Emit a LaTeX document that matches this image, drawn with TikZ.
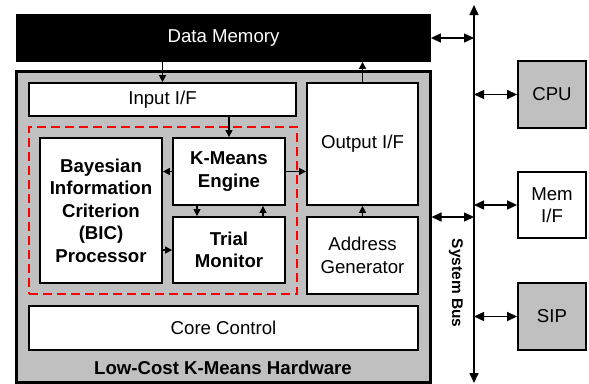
\documentclass[tikz,border=0pt]{standalone}
\usepackage{fontspec}
\setmainfont{Liberation Sans}
\usetikzlibrary{arrows.meta,calc}
\definecolor{hwgray}{HTML}{C0C0C0}
\begin{document}
\begin{tikzpicture}[x=1bp,y=-1bp,
  box/.style={draw=black,line width=1.8bp,fill=white,inner sep=0pt,align=center,
    font=\fontsize{18.7}{22.5}\selectfont},
  boldbox/.style={box,font=\fontsize{18.7}{22.5}\selectfont\bfseries},
  arr/.style={line width=1.4bp,-{Triangle[length=7bp,width=7bp]}},
  dbl/.style={line width=1.4bp,{Triangle[length=10bp,width=9bp]}-{Triangle[length=10bp,width=9bp]}},
  lbl/.style={inner sep=0pt,font=\fontsize{18.7}{22.5}\selectfont\bfseries}]
\useasboundingbox (0,0) rectangle (589,383);
% outer hardware box
\node[draw=black,line width=3bp,fill=hwgray,minimum width=413bp,minimum height=311bp,inner sep=0pt] (hw) at (223.5,226.5) {};
% data memory
\node[box,fill=black,text=white,minimum width=413bp,minimum height=46bp] (dm) at (223.5,38) {Data Memory};
% inner boxes
\node[box,minimum width=267bp,minimum height=33bp] (inif) at (162.5,99.5) {Input I/F};
\node[box,minimum width=111bp,minimum height=122bp] (outif) at (362.5,144) {Output I/F};
\node[box,minimum width=111bp,minimum height=77bp] (addr) at (362.5,255.5) {Address\\Generator};
\node[box,minimum width=389bp,minimum height=44bp] (core) at (223.5,328) {Core Control};
\node[draw=red,line width=2.8bp,dash pattern=on 9bp off 5bp,minimum width=268bp,minimum height=167bp,inner sep=0pt] (red) at (163,210.5) {};
\node[boldbox,minimum width=122bp,minimum height=145bp] (bic) at (101,210.5) {Bayesian\\Information\\Criterion\\(BIC)\\Processor};
\node[boldbox,minimum width=112bp,minimum height=67bp] (km) at (229,171.5) {K-Means\\Engine};
\node[boldbox,minimum width=112bp,minimum height=66bp] (tm) at (229,250) {Trial\\Monitor};
% external
\node[box,fill=hwgray,minimum width=68bp,minimum height=67bp] (cpu) at (552,94.5) {CPU};
\node[box,minimum width=68bp,minimum height=66bp] (mem) at (552,205) {Mem\\I/F};
\node[box,fill=hwgray,minimum width=68bp,minimum height=67bp] (sip) at (552,316.5) {SIP};
% labels
\node[lbl] (hwlabel) at (223,368) {Low-Cost K-Means Hardware};
\node[lbl,rotate=-90,font=\fontsize{15.5}{18}\selectfont\bfseries] (buslabel) at (456,283) {System Bus};
% bus
\coordinate (busT) at (474,5);
\coordinate (busB) at (474,383);
\draw[dbl] (busT) -- (busB);
% internal arrows
\draw[arr] (dm.south -| inif.north) -- (inif.north);
\draw[arr] (inif.south -| km.north) -- (km.north);
\draw[arr] (km.west) -- (km.west -| bic.east);
\draw[arr] (km.east) -- (km.east -| outif.west);
\draw[arr] (tm.west -| bic.east) -- (tm.west);
\draw[arr] ([xshift=-32bp]km.south) -- ([xshift=-32bp]tm.north);
\draw[arr] ([xshift=34bp]tm.north) -- ([xshift=34bp]km.south);
\draw[arr] (addr.north) -- (outif.south);
\draw[arr] (outif.north) -- (outif.north |- dm.south);
% bus arrows
\draw[dbl] (dm.east) -- (dm.east -| busT);
\draw[dbl] ([yshift=9.5bp]hw.east) -- ([yshift=9.5bp]hw.east -| busT);
\draw[dbl] (cpu.west -| busT) -- (cpu.west);
\draw[dbl] (mem.west -| busT) -- (mem.west);
\draw[dbl] (sip.west -| busT) -- (sip.west);
\end{tikzpicture}
\end{document}
